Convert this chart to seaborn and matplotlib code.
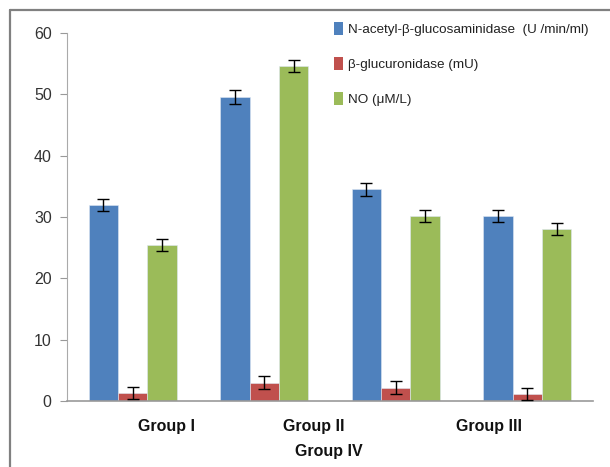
import matplotlib
matplotlib.use("Agg")
import matplotlib.pyplot as plt
import matplotlib.patches as mpatches
from matplotlib.lines import Line2D
import seaborn as sns
import pandas as pd
import numpy as np

groups = ["Group I", "Group II", "Group III", "Group IV"]
series = ["N-acetyl-β-glucosaminidase  (U /min/ml)", "β-glucuronidase (mU)", "NO (μM/L)"]
nag = [32.0, 49.6, 34.5, 30.2]
bgl = [1.3, 3.0, 2.2, 1.2]
no_ = [25.4, 54.6, 30.2, 28.1]
nag_err = [1.0, 1.1, 1.1, 1.0]
bgl_err = [1.0, 1.0, 1.0, 1.0]
no_err = [1.0, 1.0, 1.0, 1.0]
yticks = [0, 10, 20, 30, 40, 50, 60]
colors = ["#4F81BD", "#C0504D", "#9BBB59"]

sns.set_theme(style="white")
plt.rcParams['font.family'] = ['Liberation Sans', 'DejaVu Sans']

df = pd.DataFrame({
    "group": groups * 3,
    "series": [series[0]] * 4 + [series[1]] * 4 + [series[2]] * 4,
    "value": nag + bgl + no_,
    "err": nag_err + bgl_err + no_err,
})

fig = plt.figure(figsize=(6.10, 4.67), dpi=100)
ax = fig.add_axes([67 / 610, 1 - 401 / 467, (593 - 67) / 610, (401 - 33) / 467])

sns.barplot(data=df, x="group", y="value", hue="series", order=groups,
            hue_order=series, palette=colors, width=0.67, errorbar=None,
            edgecolor="#dfe8f3", linewidth=0.4, saturation=1, ax=ax, legend=False)

# error bars at bar centres
for patch_container, s in zip(ax.containers, series):
    sub = df[df["series"] == s].set_index("group").loc[groups]
    xs = [p.get_x() + p.get_width() / 2 for p in patch_container]
    ax.errorbar(xs, sub["value"].values, yerr=sub["err"].values, fmt="none",
                ecolor="black", elinewidth=1, capsize=4, capthick=1, zorder=5)

ax.set_ylim(0, 60)
ax.set_xlim(-0.5, 3.5)
ax.set_yticks(yticks)
ax.set_yticklabels([str(t) for t in yticks], fontsize=11.5, color="#333333")
ax.tick_params(axis="y", direction="out", length=5, width=0.8, color="#999999", pad=6, left=True)
ax.set_xticks([])
ax.set_xlabel("")
ax.set_ylabel("")
for side in ["top", "right"]:
    ax.spines[side].set_visible(False)
ax.spines["left"].set_color("#aaaaaa")
ax.spines["left"].set_linewidth(0.8)
ax.spines["bottom"].set_color("#999999")
ax.spines["bottom"].set_linewidth(1.2)

# category labels as placed in the reference
label_pos = [(0.26, -0.068), (1.38, -0.068), (2.71, -0.068), (1.49, -0.138)]
xt = ax.get_xaxis_transform()
for g, (px, py) in zip(groups, label_pos):
    ax.text(px, py, g, transform=xt, ha="center", va="center", fontsize=11.5,
            fontweight="bold", color="#111111")

# legend
handles = [mpatches.Patch(facecolor=c, edgecolor="none") for c in colors]
leg = fig.legend(handles, series, loc="upper left", bbox_to_anchor=(329 / 610, 1 - 17 / 467),
                 frameon=False, fontsize=9.7, handlelength=0.65, handleheight=1.1,
                 handletextpad=0.35, labelspacing=1.55, borderaxespad=0)
for t in leg.get_texts():
    t.set_color("#222222")

# outer frame (left and top)
fig.add_artist(Line2D([9.5 / 610, 9.5 / 610], [0, 1 - 9.5 / 467], transform=fig.transFigure,
                      color="#808080", linewidth=1.6))
fig.add_artist(Line2D([9.5 / 610, 1], [1 - 9.5 / 467, 1 - 9.5 / 467], transform=fig.transFigure,
                      color="#808080", linewidth=1.6))

fig.savefig("out.png", dpi=100)
